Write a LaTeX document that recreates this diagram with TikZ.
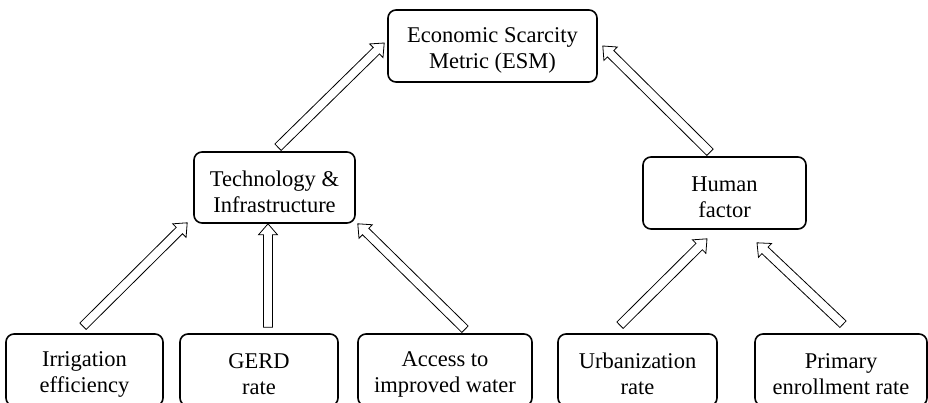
\documentclass[tikz,border=0pt]{standalone}
\usepackage{fontspec}
\setmainfont{Liberation Serif}
\usetikzlibrary{calc}

\tikzset{
	box/.style={draw, line width=1.6pt, rounded corners=8pt, align=center, inner sep=0pt,
		minimum height=72pt, font=\fontsize{22.5}{26}\selectfont},
	arrowline/.style={draw, line width=0.8pt, fill=white, line join=miter}
}

% first line strut, pushes the two lines a bit down in the box
\newcommand{\tstrut}{\rule{0pt}{23.5pt}}

% hollow block arrow from #1 (tail) to #2 (tip)
\newcommand{\hollowarrow}[2]{%
	\draw[arrowline] let \p1=($(#2)-(#1)$), \n1={atan2(\y1,\x1)}, \n2={veclen(\x1,\y1)} in
		[shift={(#1)}, rotate=\n1]
		(0pt,-4.5pt) -- (\n2-11pt,-4.5pt) -- (\n2-11pt,-9.5pt) -- (\n2+0pt,0pt)
		-- (\n2-11pt,9.5pt) -- (\n2-11pt,4.5pt) -- (0pt,4.5pt) -- cycle;
}

\begin{document}
\begin{tikzpicture}[x=1pt,y=-1pt]
		\useasboundingbox (0,0) rectangle (928,402);
		\clip (0,0) rectangle (928,402);
		\node[box, minimum width=209pt] (esm) at (492.5,46) {\tstrut Economic Scarcity\\Metric (ESM)};
		\node[box, minimum width=161pt, minimum height=71pt] (tech) at (274.5,187.5) {\tstrut Technology \&\\Infrastructure};
		\node[box, minimum width=163pt] (human) at (724.5,193) {\tstrut Human\\factor};
		\node[box, minimum width=157pt] (irr) at (84.5,370) {\tstrut Irrigation\\efficiency};
		\node[box, minimum width=158pt] (gerd) at (259,370) {\tstrut GERD\\rate};
		\node[box, minimum width=174pt] (acc) at (445,370) {\tstrut Access to\\improved water};
		\node[box, minimum width=159pt] (urb) at (637.5,370) {\tstrut Urbanization\\rate};
		\node[box, minimum width=172pt] (prim) at (841,370) {\tstrut Primary\\enrollment rate};
		\hollowarrow{$(irr.north)+(-1.5pt,7pt)$}{$(tech.south west)+(-6pt,1pt)$}
		\hollowarrow{$(gerd.north)+(9pt,6pt)$}{$(tech.south)+(-6.5pt,0pt)$}
		\hollowarrow{$(acc.north)+(20pt,4pt)$}{$(tech.south east)+(2pt,0pt)$}
		\hollowarrow{$(tech.north)+(3.5pt,4pt)$}{$(esm.west)+(-3pt,3pt)$}
		\hollowarrow{$(human.north)+(-14.5pt,4pt)$}{$(esm.east)+(5pt,0pt)$}
		\hollowarrow{$(urb.north)+(-17.5pt,8pt)$}{$(human.south)+(-17.5pt,-9pt)$}
		\hollowarrow{$(prim.north)+(2pt,9pt)$}{$(human.south)+(32.5pt,-13pt)$}
\end{tikzpicture}
\end{document}
